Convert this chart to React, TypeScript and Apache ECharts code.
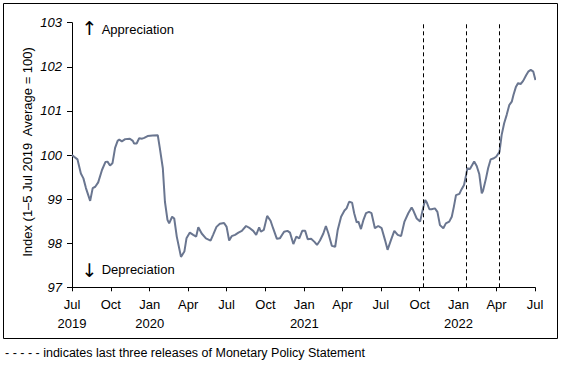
import React, { useEffect, useRef } from "react";
import * as echarts from "echarts";

const dates: string[] = [
  "2019-07-01","2019-07-06","2019-07-14","2019-07-22","2019-07-28","2019-08-03","2019-08-13","2019-08-19","2019-08-25","2019-09-01",
  "2019-09-10","2019-09-18","2019-09-23","2019-09-29","2019-10-05","2019-10-11","2019-10-17","2019-10-21","2019-10-27","2019-11-04",
  "2019-11-15","2019-11-22","2019-11-25","2019-12-01","2019-12-07","2019-12-14","2019-12-19","2019-12-27","2020-01-08","2020-01-20",
  "2020-01-25","2020-02-01","2020-02-06","2020-02-12","2020-02-16","2020-02-23","2020-02-28","2020-03-05","2020-03-15","2020-03-23",
  "2020-03-28","2020-04-05","2020-04-13","2020-04-20","2020-04-25","2020-05-03","2020-05-13","2020-05-24","2020-05-30","2020-06-07",
  "2020-06-15","2020-06-25","2020-07-01","2020-07-07","2020-07-13","2020-07-21","2020-07-29","2020-08-06","2020-08-16","2020-08-25",
  "2020-09-02","2020-09-09","2020-09-16","2020-09-20","2020-09-27","2020-10-05","2020-10-13","2020-10-19","2020-10-28","2020-11-04",
  "2020-11-14","2020-11-22","2020-11-28","2020-12-06","2020-12-13","2020-12-20","2020-12-27","2021-01-03","2021-01-09","2021-01-17",
  "2021-01-25","2021-01-31","2021-02-07","2021-02-15","2021-02-21","2021-02-27","2021-03-07","2021-03-15","2021-03-21","2021-03-29",
  "2021-04-06","2021-04-11","2021-04-17","2021-04-24","2021-04-29","2021-05-05","2021-05-09","2021-05-15","2021-05-21","2021-05-27",
  "2021-06-03","2021-06-09","2021-06-17","2021-06-25","2021-07-03","2021-07-11","2021-07-17","2021-07-25","2021-08-02","2021-08-10",
  "2021-08-18","2021-08-26","2021-09-04","2021-09-12","2021-09-16","2021-09-24","2021-10-02","2021-10-08","2021-10-14","2021-10-18",
  "2021-10-24","2021-10-29","2021-11-06","2021-11-12","2021-11-18","2021-11-26","2021-12-02","2021-12-10","2021-12-16","2021-12-21",
  "2021-12-26","2022-01-03","2022-01-08","2022-01-14","2022-01-19","2022-01-22","2022-01-28","2022-02-07","2022-02-13","2022-02-19",
  "2022-02-25","2022-02-28","2022-03-07","2022-03-12","2022-03-18","2022-03-24","2022-03-31","2022-04-08","2022-04-13","2022-04-19",
  "2022-04-25","2022-05-01","2022-05-07","2022-05-11","2022-05-17","2022-05-22","2022-05-28","2022-06-03","2022-06-10","2022-06-15",
  "2022-06-21","2022-06-27","2022-07-02"
];

const indexValues: number[] = [
  100.0, 99.96, 99.9, 99.58, 99.47, 99.25, 98.96, 99.25, 99.28, 99.38,
  99.66, 99.84, 99.85, 99.76, 99.82, 100.16, 100.32, 100.35, 100.31, 100.36,
  100.37, 100.32, 100.26, 100.26, 100.38, 100.37, 100.39, 100.43, 100.44, 100.45,
  100.15, 99.7, 98.94, 98.53, 98.45, 98.6, 98.56, 98.15, 97.69, 97.81,
  98.11, 98.24, 98.19, 98.15, 98.36, 98.22, 98.11, 98.06, 98.19, 98.37,
  98.44, 98.46, 98.37, 98.06, 98.16, 98.19, 98.24, 98.28, 98.39, 98.34,
  98.28, 98.19, 98.36, 98.26, 98.3, 98.62, 98.51, 98.34, 98.1, 98.11,
  98.26, 98.28, 98.24, 97.98, 98.15, 98.11, 98.28, 98.28, 98.09, 98.1,
  98.03, 97.96, 98.06, 98.22, 98.39, 98.22, 97.94, 97.92, 98.3, 98.6,
  98.74, 98.79, 98.94, 98.92, 98.68, 98.47, 98.49, 98.32, 98.53, 98.68,
  98.71, 98.68, 98.34, 98.39, 98.34, 98.07, 97.85, 98.07, 98.28, 98.19,
  98.16, 98.49, 98.68, 98.81, 98.74, 98.56, 98.49, 98.75, 98.98, 98.92,
  98.77, 98.77, 98.79, 98.71, 98.41, 98.34, 98.45, 98.49, 98.6, 98.83,
  99.09, 99.12, 99.22, 99.32, 99.55, 99.7, 99.68, 99.85, 99.75, 99.57,
  99.13, 99.19, 99.47, 99.7, 99.9, 99.92, 99.96, 100.07, 100.45, 100.72,
  100.91, 101.13, 101.21, 101.36, 101.55, 101.63, 101.61, 101.68, 101.81, 101.89,
  101.93, 101.89, 101.7
];

const releaseDates: string[] = ["2021-10-10", "2022-01-19", "2022-04-08"];

const monthNames: string[] = ["Jan", "Feb", "Mar", "Apr", "May", "Jun", "Jul", "Aug", "Sep", "Oct", "Nov", "Dec"];

const yAxisTitle = "Index (1\u20135 Jul 2019  Average = 100)";
const footnote = "- - - - - indicates last three releases of Monetary Policy Statement";
const upLabel = "Appreciation";
const downLabel = "Depreciation";

const FONT = "'Liberation Sans', Arial, Helvetica, sans-serif";

export default function App() {
  const ref = useRef<HTMLDivElement>(null);
  useEffect(() => {
    document.body.style.margin = "0";
    if (!ref.current) return;
    const chart = echarts.init(ref.current, undefined, { renderer: "svg" });
    const seriesData = dates.map((d, i) => [d, indexValues[i]]);
    chart.setOption({
      animation: false,
      backgroundColor: "#ffffff",
      textStyle: { fontFamily: FONT },
      grid: { left: 72, right: 27, top: 22.7, bottom: 77.7, containLabel: false },
      xAxis: {
        type: "time",
        min: "2019-07-01",
        max: "2022-07-01",
        splitNumber: 12,
        minInterval: 80 * 24 * 3600 * 1000,
        maxInterval: 100 * 24 * 3600 * 1000,
        axisLine: { lineStyle: { color: "#000", width: 1 } },
        axisTick: { show: true, length: 4, lineStyle: { color: "#000" } },
        splitLine: { show: false },
        axisLabel: {
          color: "#000",
          fontSize: 13,
          fontFamily: FONT,
          lineHeight: 19,
          margin: 8,
          showMinLabel: true,
          showMaxLabel: true,
          hideOverlap: false,
          formatter: (v: number, idx: number) => {
            const d = new Date(v);
            const m = d.getMonth();
            const name = monthNames[m];
            if (m === 0 || idx === 0) return name + "\n" + d.getFullYear();
            return name;
          },
        },
      },
      yAxis: {
        type: "value",
        min: 97,
        max: 103,
        interval: 1,
        axisLine: { show: true, lineStyle: { color: "#000", width: 1 } },
        axisTick: { show: true, length: 5, lineStyle: { color: "#000" } },
        splitLine: { show: false },
        axisLabel: {
          color: "#000",
          fontSize: 13,
          fontStyle: "italic",
          fontFamily: FONT,
          margin: 10,
        },
      },
      series: [
        {
          type: "line",
          data: seriesData,
          showSymbol: false,
          symbol: "none",
          lineStyle: { color: "#6a7690", width: 2 },
          z: 3,
          markLine: {
            silent: true,
            symbol: ["none", "none"],
            label: { show: false },
            lineStyle: { color: "#000", width: 1, type: [4, 3] },
            data: releaseDates.map((d) => ({ xAxis: d })),
          },
        },
      ],
      graphic: [
        {
          type: "rect",
          shape: { x: 3.5, y: 3.5, width: 554, height: 335 },
          style: { fill: "none", stroke: "#000", lineWidth: 1 },
          silent: true,
        },
        {
          type: "text",
          x: 27,
          y: 152,
          rotation: Math.PI / 2,
          style: {
            text: yAxisTitle,
            fontSize: 13,
            fontFamily: FONT,
            fill: "#000",
            align: "center",
            verticalAlign: "middle",
          },
        },
        {
          type: "text",
          x: 89.5,
          y: 28,
          style: { text: "\u2191", fontSize: 19, fontFamily: "'DejaVu Sans', sans-serif", fill: "#000", align: "center", verticalAlign: "middle" },
        },
        {
          type: "text",
          x: 101.7,
          y: 29.5,
          style: { text: upLabel, fontSize: 13, fontFamily: FONT, fill: "#000", align: "left", verticalAlign: "middle" },
        },
        {
          type: "text",
          x: 89.5,
          y: 270,
          style: { text: "\u2193", fontSize: 19, fontFamily: "'DejaVu Sans', sans-serif", fill: "#000", align: "center", verticalAlign: "middle" },
        },
        {
          type: "text",
          x: 101.7,
          y: 269.3,
          style: { text: downLabel, fontSize: 13, fontFamily: FONT, fill: "#000", align: "left", verticalAlign: "middle" },
        },
        {
          type: "text",
          x: 5,
          y: 353,
          style: { text: footnote, fontSize: 12.5, fontFamily: FONT, fill: "#000", align: "left", verticalAlign: "middle" },
        },
      ],
    });
    return () => chart.dispose();
  }, []);
  return <div ref={ref} style={{ width: 562, height: 365 }} />;
}
